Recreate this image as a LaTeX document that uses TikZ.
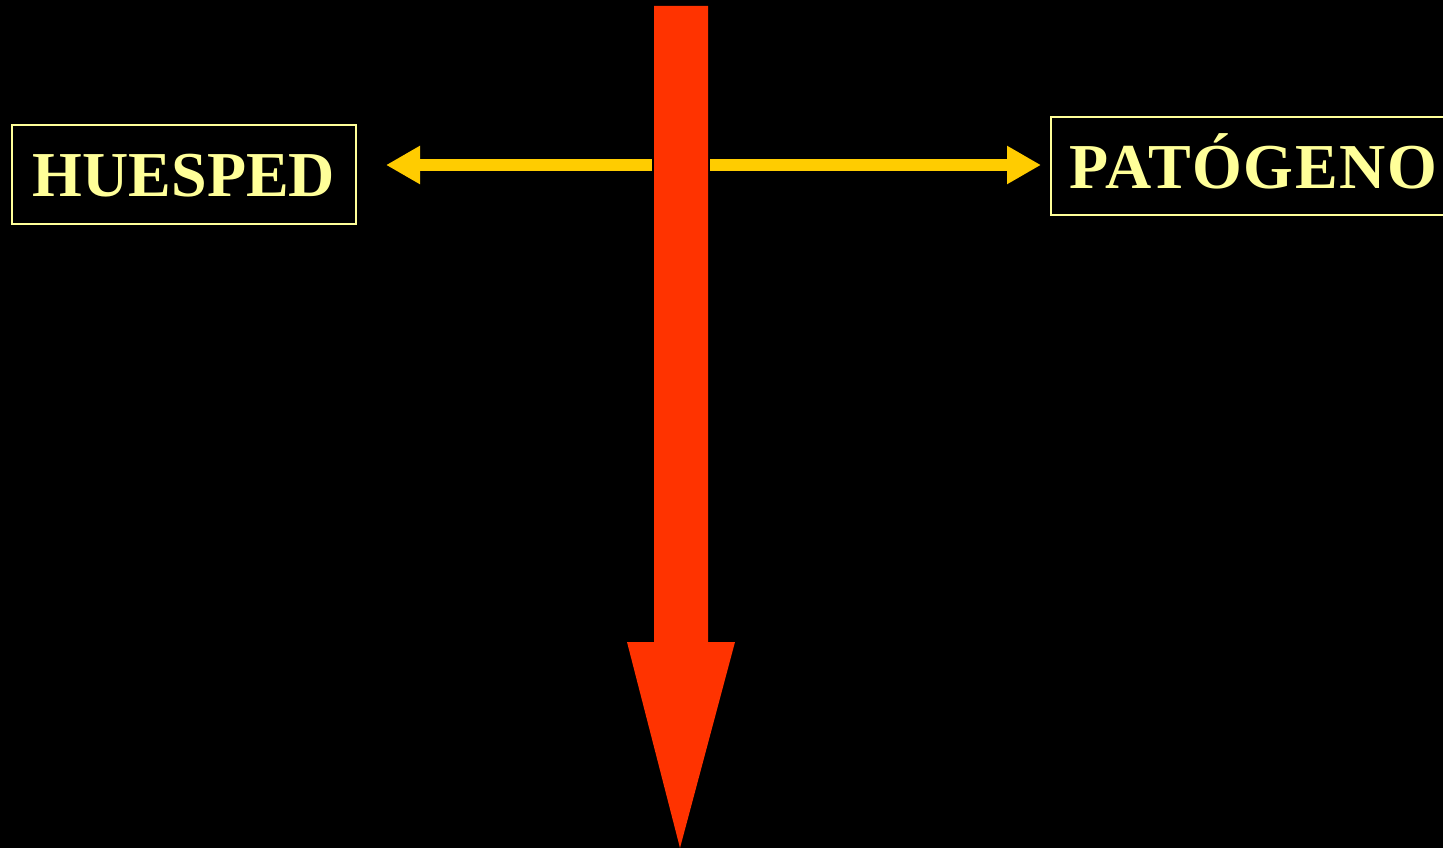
\documentclass[tikz,border=0pt]{standalone}
\usepackage{fontspec}
\setmainfont{Liberation Serif}
\usetikzlibrary{arrows.meta}
\definecolor{bgblack}{HTML}{000000}
\definecolor{paleyellow}{HTML}{FFFF99}
\definecolor{arrowyellow}{HTML}{FFCC00}
\definecolor{redorange}{HTML}{FF3300}
\tikzset{
  labelbox/.style={draw=paleyellow, line width=2pt, text=paleyellow,
    font=\fontsize{64}{64}\selectfont\bfseries, inner sep=0pt,
    text height=44pt, text depth=0pt},
  yarrow/.style={draw=arrowyellow, line width=12pt,
    -{Triangle[length=34pt,width=36pt]}}
}
\begin{document}
\begin{tikzpicture}[x=1pt,y=-1pt]
\fill[bgblack] (0,0) rectangle (1443,848);
\useasboundingbox (0,0) rectangle (1443,848);
% red arrow
\fill[redorange] (654,6) -- (708,6) -- (708,642) -- (735,642) -- (680,848)
  -- (627,642) -- (654,642) -- cycle;
% boxes
\node[labelbox, minimum width=344pt, minimum height=99pt] (host) at (184,174.5) {HUESPED};
\node[labelbox, minimum width=404pt, minimum height=98pt] (path) at (1253,166) {\addfontfeatures{LetterSpace=2.5}PAT\'OGENO};
% yellow arrows
\coordinate (lstart) at (652,165);
\coordinate (rstart) at (710,165);
\coordinate (ltip) at (386,165);
\coordinate (rtip) at (1041,165);
\draw[yarrow] (lstart) -- (ltip);
\draw[yarrow] (rstart) -- (rtip);
\end{tikzpicture}
\end{document}
